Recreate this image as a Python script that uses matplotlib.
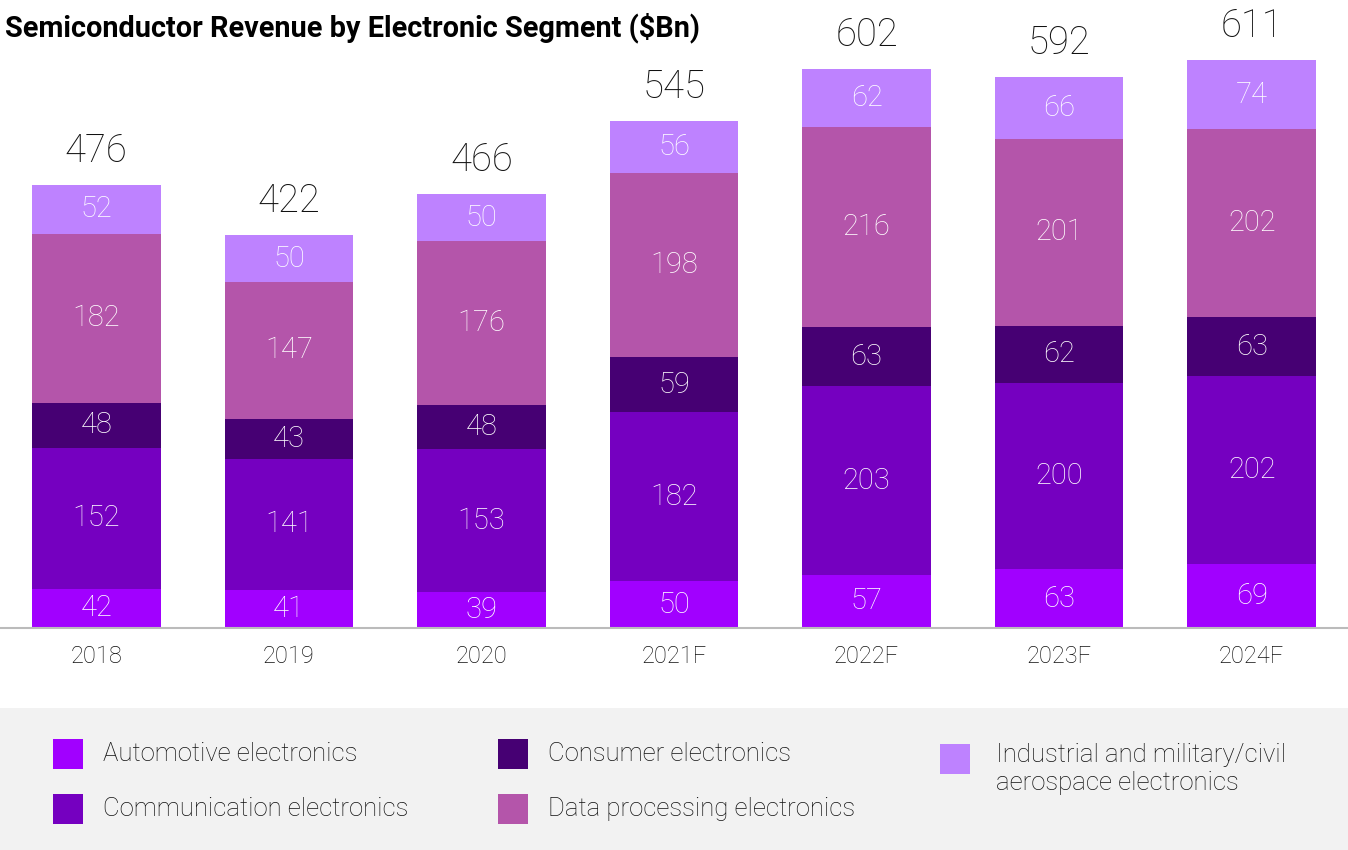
import numpy as np
import matplotlib
matplotlib.use("Agg")
import matplotlib.pyplot as plt
from matplotlib.patches import Rectangle

plt.rcParams['font.family'] = ['Roboto', 'DejaVu Sans']

years = ['2018', '2019', '2020', '2021F', '2022F', '2023F', '2024F']
automotive = [42, 41, 39, 50, 57, 63, 69]
communication = [152, 141, 153, 182, 203, 200, 202]
consumer = [48, 43, 48, 59, 63, 62, 63]
data_proc = [182, 147, 176, 198, 216, 201, 202]
industrial = [52, 50, 50, 56, 62, 66, 74]
totals = [476, 422, 466, 545, 602, 592, 611]

segments = [automotive, communication, consumer, data_proc, industrial]
names = ['Automotive electronics', 'Communication electronics', 'Consumer electronics',
         'Data processing electronics', 'Industrial and military/civil\naerospace electronics']
colors = ['#A100FF', '#7500C0', '#460073', '#B455AA', '#BE82FF']

W, H = 1348, 850
fig = plt.figure(figsize=(W / 100, H / 100), dpi=100)
ax = fig.add_axes([0, 222 / H, 1, 628 / H])

x = np.arange(len(years))
bottom = np.zeros(len(years))
for vals, col in zip(segments, colors):
    vals = np.array(vals)
    ax.bar(x, vals, 0.667, bottom=bottom, color=col, linewidth=0)
    for xi, b, v in zip(x, bottom, vals):
        ax.text(xi, b + v / 2, str(v), ha='center', va='center', color='white',
                fontsize=21, fontweight='light')
    bottom += vals

for xi, top, t in zip(x, bottom, totals):
    ax.annotate(str(t), (xi, top), xytext=(0, 11), textcoords='offset points',
                ha='center', va='bottom', fontsize=27.5, fontweight='light', color='#111111')

ax.set_xlim(-0.5, len(years) - 0.5)
ax.set_ylim(0, 675)
ax.set_xticks(x)
ax.set_xticklabels(years, fontsize=17, fontweight='light', color='#111111')
ax.tick_params(axis='x', length=0, pad=12)
ax.set_yticks([])
for s in ['top', 'right', 'left']:
    ax.spines[s].set_visible(False)
ax.spines['bottom'].set_color('#BBBBBB')
ax.spines['bottom'].set_linewidth(1.5)

fig.text(5 / W, 1 - 36 / H, 'Semiconductor Revenue by Electronic Segment ($Bn)',
         fontsize=20.8, fontweight='bold', va='baseline', ha='left', color='black')

# legend panel
fig.patches.append(Rectangle((0, 0), 1, 142 / H, transform=fig.transFigure,
                             facecolor='#F2F2F2', edgecolor='none', zorder=0))
spots = [(53, 754), (53, 809), (498, 754), (498, 809), (940, 759)]
for (px, py), name, col in zip(spots, names, colors):
    fig.patches.append(Rectangle((px / W, 1 - (py + 15) / H), 30 / W, 30 / H,
                                 transform=fig.transFigure, facecolor=col,
                                 edgecolor='none', zorder=1))
    tx = px + 50 if px < 900 else px + 56
    ty = py if '\n' not in name else py + 10
    fig.text(tx / W, 1 - ty / H, name, fontsize=18.5, fontweight='light',
             va='center', ha='left', color='#111111', linespacing=1.22)

fig.savefig('out.png', dpi=100)
